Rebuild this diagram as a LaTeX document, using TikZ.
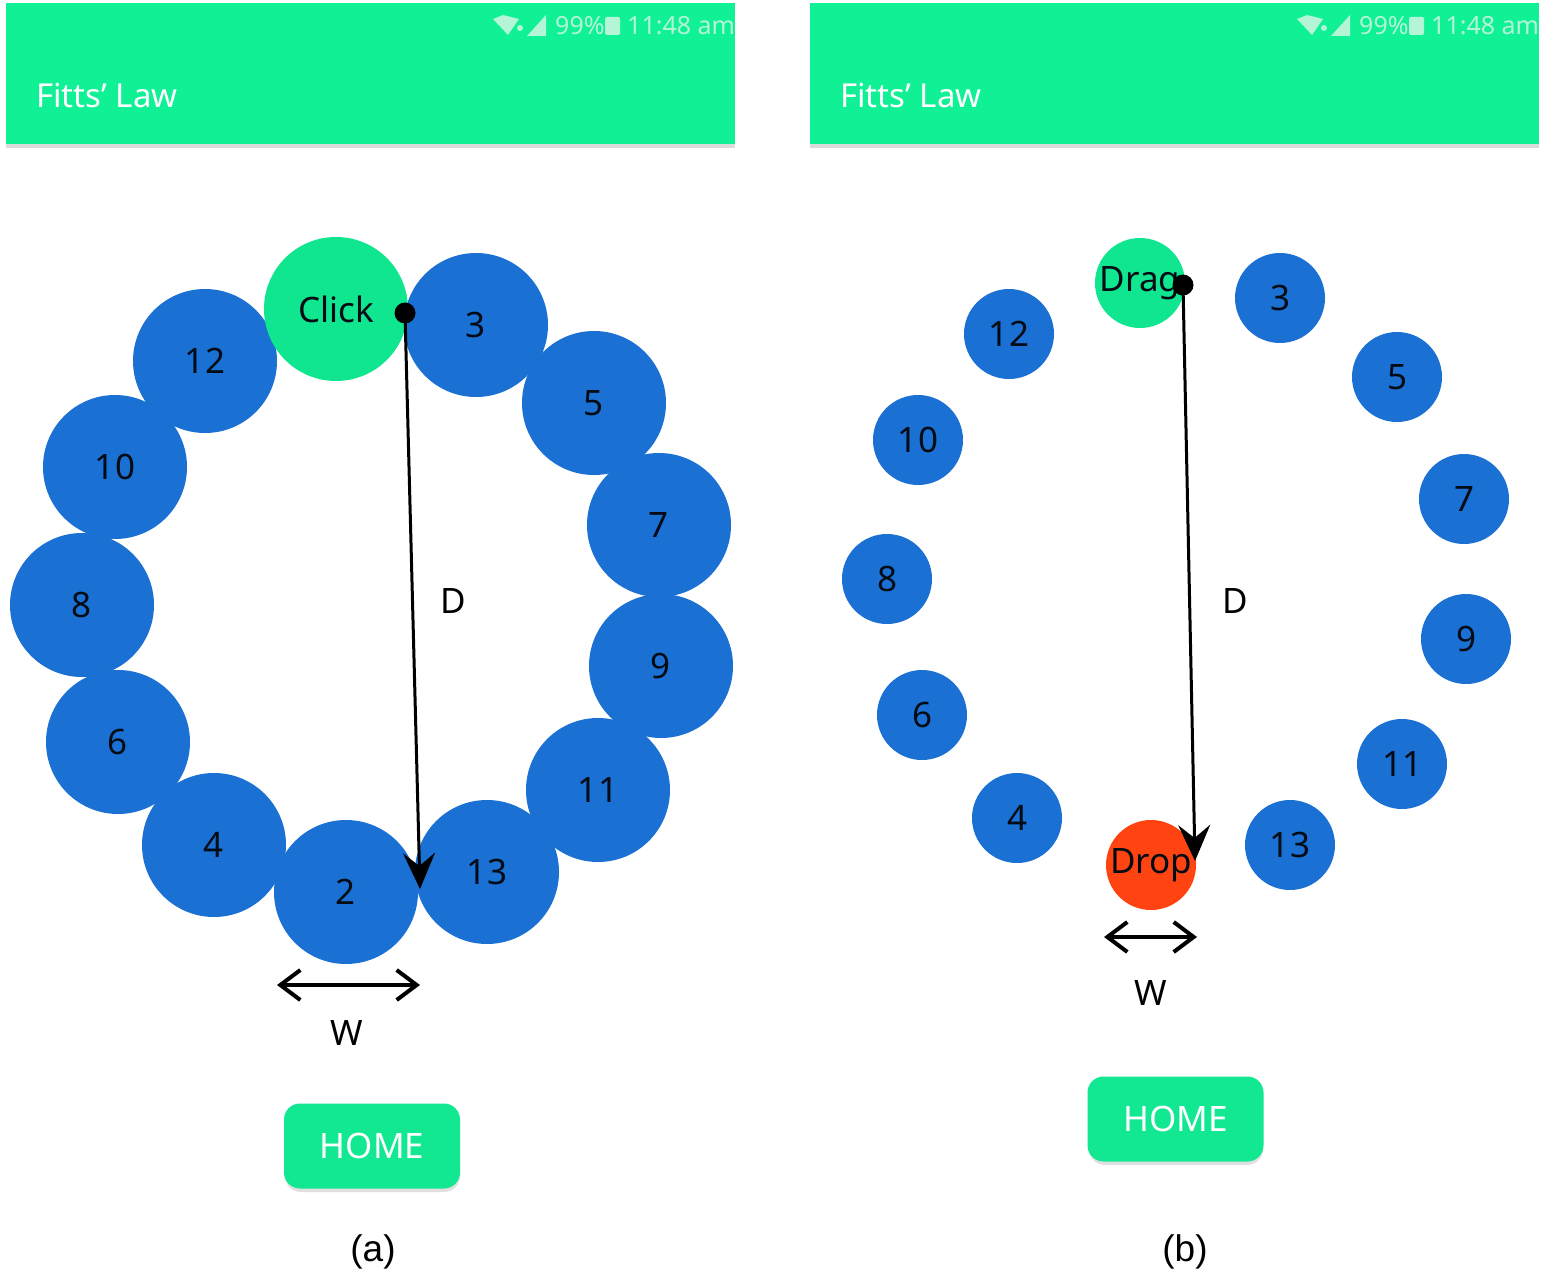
\documentclass[tikz,border=0pt]{standalone}
\usepackage{fontspec}
\setmainfont{Noto Sans}
\newfontfamily\capfont{Liberation Sans}
\usetikzlibrary{arrows.meta}
\definecolor{barg}{HTML}{10F095}
\definecolor{btng}{HTML}{12E892}
\definecolor{clickg}{HTML}{10E58F}
\definecolor{tblue}{HTML}{1B70D4}
\definecolor{dropr}{HTML}{FF4411}
\definecolor{stat}{HTML}{B4F5D8}
\tikzset{
 bigt/.style={circle,fill=tblue,minimum size=144pt,inner sep=0pt,font=\fontsize{35}{35}\selectfont,text=black!90!tblue},
 smallt/.style={circle,fill=tblue,minimum size=90pt,inner sep=0pt,font=\fontsize{35}{35}\selectfont,text=black!90!tblue},
 bar/.style={fill=barg,draw=none},
 barshadow/.style={fill=black!14,draw=none},
 apptitle/.style={text=white,font=\fontsize{33}{33}\selectfont\bfseries,anchor=west,inner sep=0pt},
 stattext/.style={text=stat,font=\fontsize{25}{25}\selectfont,anchor=west,inner sep=0pt},
 homebtn/.style={fill=btng,rounded corners=16pt,minimum width=176pt,minimum height=85pt,inner sep=0pt,text=white,font=\fontsize{35}{35}\selectfont\bfseries},
 btnshadow/.style={fill=black!12,rounded corners=16pt,draw=none},
 lbl/.style={text=black,font=\fontsize{35}{35}\selectfont,inner sep=0pt},
 captext/.style={text=black,font=\capfont\fontsize{37}{37}\selectfont,inner sep=0pt},
 dotn/.style={circle,fill=black,minimum size=21pt,inner sep=0pt},
 dline/.style={draw=black,line width=3pt,-{Stealth[length=36pt,width=32pt,inset=13pt]}},
 wline/.style={draw=black,line width=3.5pt,{Straight Barb[length=20pt,width=30pt,line width=4pt]}-{Straight Barb[length=20pt,width=30pt,line width=4pt]}},
}
\newcommand{\statusicons}[1]{%
 \begin{scope}[shift={(#1,0)}]
  \fill[stat] (493,19) -- (503,15) -- (519,19) -- (508,35) -- cycle;
  \fill[stat] (520,28) circle (3pt);
  \fill[stat] (527,36) -- (546,15) -- (546,36) -- cycle;
  \fill[stat,rounded corners=1.5pt] (605,17) rectangle (620,35);
  \node[stattext] at (555,26) {99\%};
  \node[stattext] at (627,26) {11:48 am};
 \end{scope}}
\begin{document}
\begin{tikzpicture}[x=1pt,y=-1pt]
\useasboundingbox (0,0) rectangle (1541,1276);
\fill[white] (0,0) rectangle (1541,1276);
% left bar
\fill[barshadow] (6,143) rectangle (735,148);
\fill[bar] (6,3) rectangle (735,144);
\statusicons{0}
\node[apptitle] (ta) at (36,96) {Fitts' Law};
% right bar
\fill[barshadow] (810,143) rectangle (1539,148);
\fill[bar] (810,3) rectangle (1539,144);
\statusicons{804}
\node[apptitle] (tb) at (840,96) {Fitts' Law};
% left targets
\node[bigt] (a12) at (205,361) {12};
\node[bigt,fill=clickg] (aclick) at (336,309) {Click};
\node[bigt] (a3) at (476,325) {3};
\node[bigt] (a5) at (594,403) {5};
\node[bigt] (a7) at (659,525) {7};
\node[bigt] (a9) at (661,666) {9};
\node[bigt] (a11) at (598,790) {11};
\node[bigt] (a13) at (487,872) {13};
\node[bigt] (a4) at (214,845) {4};
\node[bigt] (a2) at (346,892) {2};
\node[bigt] (a6) at (118,742) {6};
\node[bigt] (a8) at (82,605) {8};
\node[bigt] (a10) at (115,467) {10};
% right targets
\node[smallt,fill=clickg] (bdrag) at (1140,283) {Drag};
\node[smallt] (b3) at (1280,298) {3};
\node[smallt] (b5) at (1397,377) {5};
\node[smallt] (b7) at (1464,499) {7};
\node[smallt] (b9) at (1466,639) {9};
\node[smallt] (b11) at (1402,764) {11};
\node[smallt] (b13) at (1290,845) {13};
\node[smallt,fill=dropr] (bdrop) at (1151,865) {Drop};
\node[smallt] (b4) at (1017,818) {4};
\node[smallt] (b6) at (922,715) {6};
\node[smallt] (b8) at (887,579) {8};
\node[smallt] (b10) at (918,440) {10};
\node[smallt] (b12) at (1009,334) {12};
% D arrows
\node[dotn] (da) at (405,313) {};
\coordinate (ea) at (420,889);
\draw[dline] (da.center) -- (ea);
\node[lbl] (dla) at (453,601) {D};
\node[dotn] (db) at (1183,285) {};
\coordinate (eb) at (1195,861);
\draw[dline] (db.center) -- (eb);
\node[lbl] (dlb) at (1235,601) {D};
% W arrows
\coordinate (wa1) at (277,985);
\coordinate (wa2) at (420,985);
\draw[wline] (wa1) -- (wa2);
\node[lbl] (wla) at (347,1033) {W};
\coordinate (wb1) at (1104,937);
\coordinate (wb2) at (1197,937);
\draw[wline] (wb1) -- (wb2);
\node[lbl] (wlb) at (1151,993) {W};
% buttons
\fill[btnshadow] (285,1106) rectangle (460,1192);
\node[homebtn] (ha) at (372,1146) {HOME};
\fill[btnshadow] (1089,1079) rectangle (1263,1165);
\node[homebtn] (hb) at (1175.5,1119) {HOME};
% captions
\node[captext] (ca) at (373,1252) {(a)};
\node[captext] (cb) at (1185,1252) {(b)};
\end{tikzpicture}
\end{document}
